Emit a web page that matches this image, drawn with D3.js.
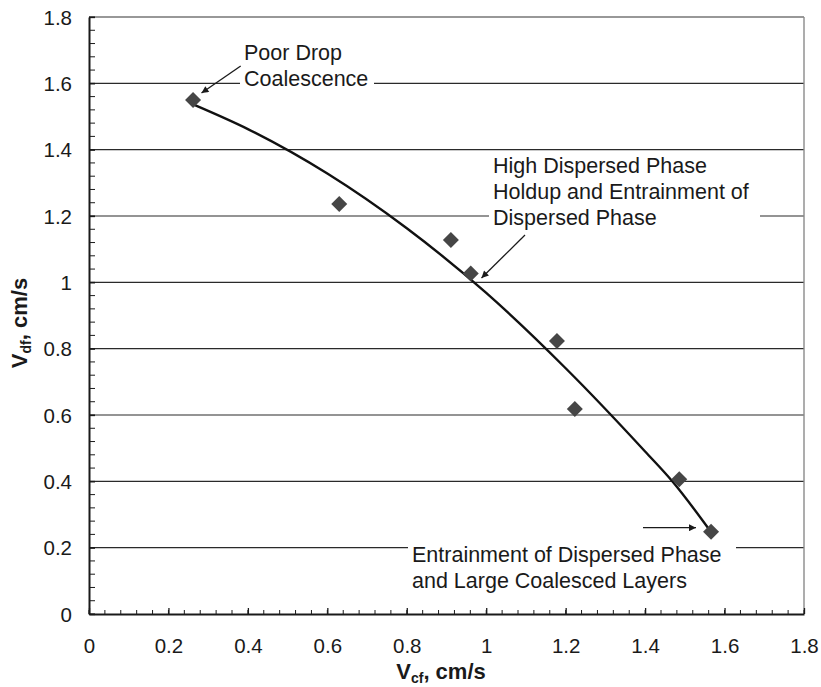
<!DOCTYPE html>
<html>
<head>
<meta charset="utf-8">
<script src="https://cdn.jsdelivr.net/npm/d3@7"></script>
<style>
  html, body { margin: 0; padding: 0; background: #fff; }
  svg { display: block; font-family: "Liberation Sans", Arial, sans-serif; }
</style>
</head>
<body>
<svg id="chart" width="821" height="687"></svg>
<script>
// ---- data ----
const vcf = [0.262, 0.630, 0.911, 0.961, 1.178, 1.223, 1.486, 1.566];
const vdf = [1.550, 1.236, 1.128, 1.027, 0.823, 0.618, 0.406, 0.248];

// fitted trend curve
const curveX = [0.265, 0.40, 0.60, 0.80, 1.00, 1.20, 1.40, 1.47, 1.566];
const curveY = [1.535, 1.462, 1.328, 1.163, 0.968, 0.741, 0.490, 0.398, 0.247];

const majorTicks = [0, 0.2, 0.4, 0.6, 0.8, 1, 1.2, 1.4, 1.6, 1.8];
const tickLabels = ["0", "0.2", "0.4", "0.6", "0.8", "1", "1.2", "1.4", "1.6", "1.8"];

const annoPoor = ["Poor Drop", "Coalescence"];
const annoHigh = ["High Dispersed Phase", "Holdup and Entrainment of", "Dispersed Phase"];
const annoEntr = ["Entrainment of Dispersed Phase", "and Large Coalesced Layers"];

// ---- layout ----
const svg = d3.select("#chart");
const x = d3.scaleLinear().domain([0, 1.8]).range([89, 804]);
const y = d3.scaleLinear().domain([0, 1.8]).range([614, 17]);
const minorTicks = d3.range(0, 1.8001, 0.04).map(v => +v.toFixed(2));

const ink = "#1a1a1a";
const font = "'Liberation Sans', Arial, sans-serif";

// gridlines
svg.append("g").selectAll("line")
  .data(majorTicks.filter(v => v > 0 && v < 1.8))
  .join("line")
  .attr("x1", x(0)).attr("x2", x(1.8))
  .attr("y1", d => y(d)).attr("y2", d => y(d))
  .attr("stroke", "#2a2a2a").attr("stroke-width", 1.1);

// frame: top and right
svg.append("line").attr("x1", x(0)).attr("x2", x(1.8)).attr("y1", y(1.8)).attr("y2", y(1.8))
  .attr("stroke", "#333").attr("stroke-width", 1.2);
svg.append("line").attr("x1", x(1.8)).attr("x2", x(1.8)).attr("y1", y(1.8)).attr("y2", y(0))
  .attr("stroke", "#8a8a8a").attr("stroke-width", 1.4);

// minor ticks
svg.append("g").selectAll("line").data(minorTicks).join("line")
  .attr("x1", d => x(d)).attr("x2", d => x(d))
  .attr("y1", y(0)).attr("y2", y(0) - 4)
  .attr("stroke", ink).attr("stroke-width", 1);
svg.append("g").selectAll("line").data(minorTicks).join("line")
  .attr("y1", d => y(d)).attr("y2", d => y(d))
  .attr("x1", x(0)).attr("x2", x(0) + 6)
  .attr("stroke", ink).attr("stroke-width", 1);

// axes with d3 axes (inner major ticks)
const xAxis = d3.axisBottom(x).tickValues(majorTicks)
  .tickFormat((d, i) => tickLabels[i]).tickSizeInner(-6).tickSizeOuter(0).tickPadding(30);
const gx = svg.append("g").attr("transform", `translate(0,${y(0)})`).call(xAxis);
gx.select(".domain").attr("stroke", ink).attr("stroke-width", 2);
gx.selectAll(".tick line").attr("stroke", ink).attr("stroke-width", 1.3);
gx.selectAll(".tick text").attr("font-size", 20.5).attr("fill", ink)
  .attr("font-family", font).attr("dy", 0).attr("y", 39);

const yAxis = d3.axisLeft(y).tickValues(majorTicks)
  .tickFormat((d, i) => tickLabels[i]).tickSizeInner(-6).tickSizeOuter(0).tickPadding(17);
const gy = svg.append("g").attr("transform", `translate(${x(0)},0)`).call(yAxis);
gy.select(".domain").attr("stroke", ink).attr("stroke-width", 2);
gy.selectAll(".tick line").attr("stroke", ink).attr("stroke-width", 1.3);
gy.selectAll(".tick text").attr("font-size", 20.5).attr("fill", ink)
  .attr("font-family", font).attr("x", -17).attr("dy", "0.35em");

// annotation boxes (white background breaks the gridlines)
function annotation(lines, px, baseline, lineGap, box) {
  const g = svg.append("g");
  g.append("rect").attr("x", box[0]).attr("y", box[1]).attr("width", box[2]).attr("height", box[3])
    .attr("fill", "#fff");
  const t = g.append("text").attr("font-size", 21.5).attr("fill", ink).attr("font-family", font);
  lines.forEach((s, i) => {
    t.append("tspan").attr("x", px).attr("y", baseline + i * lineGap).text(s);
  });
}
annotation(annoPoor, 244, 60, 26, [240, 40, 134, 52]);
annotation(annoHigh, 493, 173, 26, [489, 153, 271, 80]);
annotation(annoEntr, 412, 562, 26, [408, 541, 328, 53]);

// arrowhead marker
svg.append("defs").append("marker")
  .attr("id", "arr").attr("viewBox", "0 0 10 10").attr("refX", 10).attr("refY", 5)
  .attr("markerWidth", 9).attr("markerHeight", 7).attr("markerUnits", "userSpaceOnUse")
  .attr("orient", "auto")
  .append("path").attr("d", "M0,0 L10,5 L0,10 Z").attr("fill", ink);

function arrow(x1, y1, x2, y2) {
  svg.append("line").attr("x1", x1).attr("y1", y1).attr("x2", x2).attr("y2", y2)
    .attr("stroke", ink).attr("stroke-width", 1.3).attr("marker-end", "url(#arr)");
}
arrow(240.7, 66, 201.5, 93);
arrow(525, 235, 481.5, 278);
arrow(643, 527.7, 696, 527.7);

// trend curve
const line = d3.line().x(d => x(d[0])).y(d => y(d[1])).curve(d3.curveMonotoneX);
svg.append("path").datum(curveX.map((v, i) => [v, curveY[i]]))
  .attr("d", line).attr("fill", "none").attr("stroke", "#111").attr("stroke-width", 2.4);

// diamonds
svg.append("g").selectAll("path").data(vcf.map((v, i) => [v, vdf[i]])).join("path")
  .attr("transform", d => `translate(${x(d[0])},${y(d[1])})`)
  .attr("d", "M0,-8 L8,0 L0,8 L-8,0 Z")
  .attr("fill", "#464646");

// axis titles
const xt = svg.append("text").attr("x", 441).attr("y", 679).attr("text-anchor", "middle")
  .attr("font-size", 22).attr("font-weight", "bold").attr("fill", ink).attr("font-family", font);
xt.append("tspan").text("V");
xt.append("tspan").attr("font-size", 14).attr("dy", 4).text("cf");
xt.append("tspan").attr("dy", -4).text(", cm/s");

const yt = svg.append("text").attr("transform", "translate(27,323) rotate(-90)")
  .attr("text-anchor", "middle").attr("font-size", 22).attr("font-weight", "bold").attr("fill", ink)
  .attr("font-family", font);
yt.append("tspan").text("V");
yt.append("tspan").attr("font-size", 14).attr("dy", 4).text("df");
yt.append("tspan").attr("dy", -4).text(", cm/s");
</script>
</body>
</html>
